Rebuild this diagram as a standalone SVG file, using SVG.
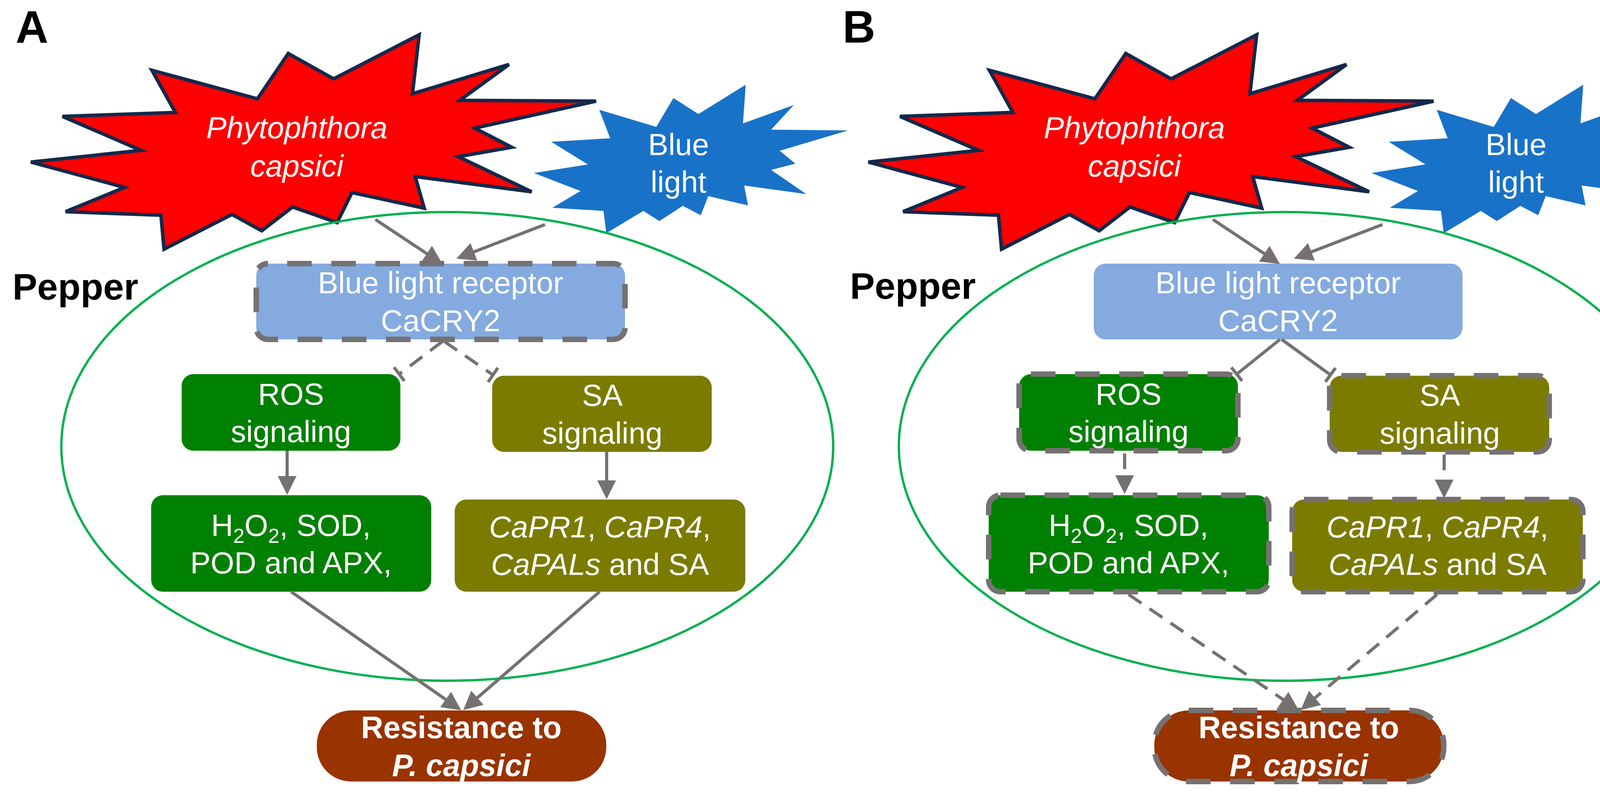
<svg xmlns="http://www.w3.org/2000/svg" width="4332" height="2033" viewBox="0 0 4332 2033">
<style>
.t{font-family:"Liberation Sans",Arial,Helvetica,sans-serif;font-size:78px;fill:#ffffff;text-anchor:middle}
.bt{font-family:"Liberation Sans",Arial,Helvetica,sans-serif;font-size:79px;fill:#ffffff;text-anchor:middle}
.i{font-style:italic}
.b{font-weight:bold}
.lbl{font-family:"Liberation Sans",Arial,Helvetica,sans-serif;font-weight:bold;fill:#000000}
.conn{stroke:#767171;stroke-width:8;fill:none}
.dc{stroke-dasharray:40 25}
.db{stroke:#767171;stroke-width:14;stroke-dasharray:63 50}
.cell{fill:none;stroke:#00B050;stroke-width:6}
.red{fill:#FF0000;stroke:#13294B;stroke-width:9;stroke-linejoin:miter}
.blue{fill:#1872C8}
.rec{fill:#84AADF}
.grn{fill:#008000}
.olv{fill:#7B7B00}
.res{fill:#993300}
</style>
<defs>
<marker id="arr" markerUnits="userSpaceOnUse" markerWidth="48" markerHeight="48" refX="28" refY="24" orient="auto" overflow="visible">
<path d="M0,0 L48,24 L0,48 z" fill="#767171"/>
</marker>
<marker id="bar" markerUnits="userSpaceOnUse" markerWidth="8" markerHeight="44" refX="4" refY="22" orient="auto" overflow="visible">
<rect x="0" y="0" width="8" height="44" fill="#767171"/>
</marker>
<polygon id="redShape" points="389,180 659,253 738,137 854,202 1073,89 1056,240 1303,165 1177,257 1526,259 1215,328 1310,377 1173,401 1361,491 1063,452 1086,533 901,493 863,570 749,530 670,591 594,549 420,638 412,551 168,542 319,480 79,415 361,385 160,298 449,288"/>
<polygon id="blueShape" points="1534,281 1680,325 1724,251 1788,292 1909,217 1902,316 2032,269 1974,332 2171,334 1996,386 2036,419 1974,435 2064,497 1905,475 1915,526 1813,502 1794,551 1748,527 1688,566 1647,540 1552,597 1545,540 1414,532 1486,489 1367,443 1505,421 1411,363 1562,354"/>
</defs>
<rect x="0" y="0" width="4332" height="2033" fill="#ffffff"/>

<!-- Panel labels -->
<g id="labels">
<text class="lbl" x="40" y="110" font-size="116">A</text>
<text class="lbl" x="2157" y="109" font-size="116">B</text>
<text class="lbl" x="32" y="767" font-size="95">Pepper</text>
<text class="lbl" x="2176" y="765" font-size="95">Pepper</text>
</g>

<!-- ===== Panel A ===== -->
<g id="A-pathogen">
<use href="#redShape" class="red"/>
<text class="t i" font-size="79" x="760" y="354">Phytophthora</text>
<text class="t i" font-size="79" x="760" y="452">capsici</text>
</g>
<g id="A-bluelight">
<use href="#blueShape" class="blue"/>
<text class="t" font-size="79" x="1737" y="397">Blue</text>
<text class="t" font-size="79" x="1737" y="493">light</text>
</g>
<g id="A-cell">
<ellipse class="cell" cx="1145" cy="1143" rx="988" ry="600"/>
</g>
<g id="A-receptor">
<rect class="rec db" x="656" y="675" width="944" height="194" rx="30" stroke-dashoffset="64"/>
<text class="t" x="1128" y="751">Blue light receptor</text>
<text class="t" x="1128" y="848">CaCRY2</text>
</g>
<g id="A-ros">
<rect class="grn" x="465" y="958" width="560" height="196" rx="30"/>
<text class="t" x="745" y="1036">ROS</text>
<text class="t" x="745" y="1132">signaling</text>
</g>
<g id="A-sa">
<rect class="olv" x="1260" y="962" width="562" height="195" rx="30"/>
<text class="t" x="1542" y="1039">SA</text>
<text class="t" x="1542" y="1136">signaling</text>
</g>
<g id="A-ros-out">
<rect class="grn" x="387" y="1268" width="717" height="247" rx="30"/>
<text class="t" x="745" y="1372">H<tspan font-size="52" dy="18">2</tspan><tspan dy="-18">O</tspan><tspan font-size="52" dy="18">2</tspan><tspan dy="-18">, SOD,</tspan></text>
<text class="t" x="745" y="1468">POD and APX,</text>
</g>
<g id="A-sa-out">
<rect class="olv" x="1164" y="1279" width="744" height="236" rx="30"/>
<text class="t" x="1536" y="1376"><tspan class="i">CaPR1</tspan>, <tspan class="i">CaPR4</tspan>,</text>
<text class="t" x="1536" y="1472"><tspan class="i">CaPALs</tspan> and SA</text>
</g>
<g id="A-resistance">
<rect class="res" x="811" y="1819" width="741" height="182" rx="88"/>
<text class="bt b" x="1181" y="1890">Resistance to</text>
<text class="bt b i" x="1181" y="1987">P. capsici</text>
</g>

<!-- ===== Panel B ===== -->
<g id="panelB" transform="translate(2144 0)">
<g id="B-pathogen">
<use href="#redShape" class="red"/>
<text class="t i" font-size="79" x="760" y="354">Phytophthora</text>
<text class="t i" font-size="79" x="760" y="452">capsici</text>
</g>
<g id="B-bluelight">
<use href="#blueShape" class="blue"/>
<text class="t" font-size="79" x="1737" y="397">Blue</text>
<text class="t" font-size="79" x="1737" y="493">light</text>
</g>
<g id="B-cell">
<ellipse class="cell" cx="1145" cy="1143" rx="988" ry="600"/>
</g>
<g id="B-receptor">
<rect class="rec" x="656" y="675" width="944" height="194" rx="30"/>
<text class="t" x="1128" y="751">Blue light receptor</text>
<text class="t" x="1128" y="848">CaCRY2</text>
</g>
<g id="B-ros">
<rect class="grn db" x="465" y="958" width="560" height="196" rx="30"/>
<text class="t" x="745" y="1036">ROS</text>
<text class="t" x="745" y="1132">signaling</text>
</g>
<g id="B-sa">
<rect class="olv db" x="1260" y="962" width="562" height="195" rx="30"/>
<text class="t" x="1542" y="1039">SA</text>
<text class="t" x="1542" y="1136">signaling</text>
</g>
<g id="B-ros-out">
<rect class="grn db" x="387" y="1268" width="717" height="247" rx="30"/>
<text class="t" x="745" y="1372">H<tspan font-size="52" dy="18">2</tspan><tspan dy="-18">O</tspan><tspan font-size="52" dy="18">2</tspan><tspan dy="-18">, SOD,</tspan></text>
<text class="t" x="745" y="1468">POD and APX,</text>
</g>
<g id="B-sa-out">
<rect class="olv db" x="1164" y="1279" width="744" height="236" rx="30"/>
<text class="t" x="1536" y="1376"><tspan class="i">CaPR1</tspan>, <tspan class="i">CaPR4</tspan>,</text>
<text class="t" x="1536" y="1472"><tspan class="i">CaPALs</tspan> and SA</text>
</g>
<g id="B-resistance">
<rect class="res db" x="811" y="1819" width="741" height="182" rx="88"/>
<text class="bt b" x="1181" y="1890">Resistance to</text>
<text class="bt b i" x="1181" y="1987">P. capsici</text>
</g>
</g>

<!-- ===== Connectors ===== -->
<g id="connectors">
<g id="connectors-A">
<path class="conn" d="M961,562 L1116,665" marker-end="url(#arr)"/>
<path class="conn" d="M1395,575 L1187,655" marker-end="url(#arr)"/>
<path class="conn dc" d="M1133,874 L1022,958" marker-end="url(#bar)"/>
<path class="conn dc" d="M1137,874 L1262,960" marker-end="url(#bar)"/>
<path class="conn" d="M735,1154 L735,1247" marker-end="url(#arr)"/>
<path class="conn" d="M1553,1157 L1553,1258" marker-end="url(#arr)"/>
<path class="conn" d="M745,1515 L1164,1807" marker-end="url(#arr)"/>
<path class="conn" d="M1535,1515 L1201,1805" marker-end="url(#arr)"/>
</g>
<g id="connectors-B" transform="translate(2144 0)">
<path class="conn" d="M961,562 L1116,665" marker-end="url(#arr)"/>
<path class="conn" d="M1395,575 L1187,655" marker-end="url(#arr)"/>
<path class="conn" d="M1133,869 L1022,958" marker-end="url(#bar)"/>
<path class="conn" d="M1137,869 L1262,960" marker-end="url(#bar)"/>
<path class="conn dc" d="M735,1161 L735,1245" marker-end="url(#arr)"/>
<path class="conn dc" d="M1553,1164 L1553,1256" marker-end="url(#arr)"/>
<path class="conn dc" d="M745,1522 L1164,1807" marker-end="url(#arr)"/>
<path class="conn dc" d="M1535,1522 L1201,1805" marker-end="url(#arr)"/>
</g>
</g>
</svg>
